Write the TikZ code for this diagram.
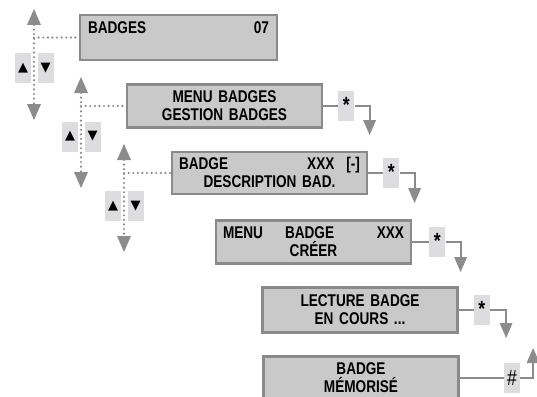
\documentclass[tikz,border=0pt]{standalone}
\usepackage{fontspec}
\setmainfont{Liberation Sans}[FakeStretch=0.8]
\newfontfamily\symfont{DejaVu Sans}
\usepackage{tikz}
\usetikzlibrary{arrows.meta,positioning}
\definecolor{lcdfill}{RGB}{201,201,201}
\definecolor{lcdedge}{RGB}{138,138,138}
\definecolor{keyfill}{RGB}{221,221,223}
\definecolor{linegray}{RGB}{140,140,140}
\newcommand{\lcdlines}[2]{\rule{0pt}{14pt}#1\\#2\rule[-3pt]{0pt}{3pt}}

\begin{document}
\begin{tikzpicture}[x=1pt,y=-1pt,
  lcd/.style={draw=lcdedge, line width=2.4pt, fill=lcdfill, inner xsep=7pt,
    text width=181pt, minimum height=43pt, align=center,
    font=\fontsize{17}{18}\selectfont\bfseries},
  keybox/.style={fill=keyfill, minimum width=16pt, minimum height=30pt,
    inner sep=0pt, font=\fontsize{22}{22}\selectfont},
  navkey/.style={keybox, font=\symfont\fontsize{13}{14}\selectfont},
  nav/.style={draw=linegray, line width=2.4pt, line cap=round,
    dash pattern=on 0pt off 4.6pt},
  navtip/.tip={Triangle[width=14pt,length=16pt,line width=0pt]},
  flow/.style={draw=linegray, line width=2pt},
  flowtip/.tip={Triangle[width=13pt,length=15pt,line width=0pt]}]
\useasboundingbox (0,0) rectangle (537,396);
\clip (0,0) rectangle (537,396);

% displays
\node[lcd, minimum width=197pt, minimum height=45pt] (b1) at (178.5,37.5) {\lcdlines{BADGES\hfill 07}{}};
\node[lcd] (b2) at (224.5,106) {\lcdlines{MENU BADGES}{GESTION BADGES}};
\node[lcd, minimum height=40pt] (b3) at (269.5,173) {\lcdlines{BADGE\hfill XXX\hspace{12pt}[-]}{DESCRIPTION BAD.}};
\node[lcd] (b4) at (313.5,242) {\lcdlines{MENU\hspace{22pt}BADGE\hfill XXX}{CRÉER}};
\node[lcd, minimum height=45pt] (b5) at (360,310) {\lcdlines{LECTURE BADGE}{EN COURS ...}};
\node[lcd] (b6) at (361,378) {\lcdlines{BADGE}{MÉMORISÉ}};

% up/down keys
\foreach \g/\x/\yt/\yb/\yk in {1/34/9/120/68, 2/81/77/188/136.5, 3/124/144/252/206}{
  \node[navkey] (u\g) at (\x-11,\yk) {▲};
  \node[navkey] (d\g) at (\x+11.5,\yk) {▼};
  \coordinate (top\g) at (\x,\yt);
  \coordinate (bot\g) at (\x,\yb);
  \draw[nav, navtip-navtip] (top\g) -- (bot\g);
  \draw[nav] (b\g.west -| top\g) -- (b\g.west);
}

% key presses
\node[keybox, right=15pt of b2] (s2) {\raisebox{3pt}{\bfseries*}};
\node[keybox, right=15pt of b3] (s3) {\raisebox{3pt}{\bfseries*}};
\node[keybox, right=17pt of b4] (s4) {\raisebox{3pt}{\bfseries*}};
\node[keybox, right=15pt of b5] (s5) {\raisebox{3pt}{\bfseries*}};
\node[keybox, right=44pt of b6] (s6) {\#};
\coordinate[below right=29pt and 15pt of s2.east] (e2);
\coordinate[below right=30pt and 15pt of s3.east] (e3);
\coordinate[below right=30pt and 15pt of s4.east] (e4);
\coordinate[below right=28pt and 16pt of s5.east] (e5);
\coordinate[above right=30pt and 13pt of s6.east] (e6);
\foreach \i in {2,...,6}{
  \draw[flow] (b\i.east) -- (s\i.west);
  \draw[flow, -flowtip] (s\i.east) -| (e\i);
}
\end{tikzpicture}
\end{document}
